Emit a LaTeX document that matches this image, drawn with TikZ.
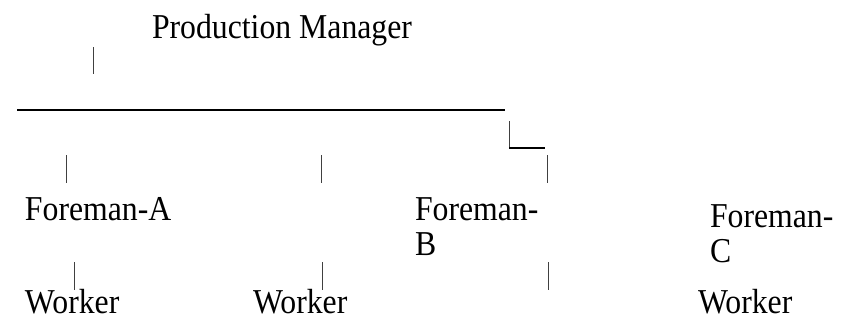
\documentclass[tikz,border=0pt]{standalone}
\usepackage{fontspec}
\setmainfont{Liberation Serif}
% text is set slightly taller than wide
\newcommand{\tallbox}[1]{\scalebox{1}[1.1]{#1}}
\begin{document}
\begin{tikzpicture}[x=0.75pt,y=-0.75pt,
  label/.style={anchor=base west,inner sep=0pt,outer sep=0pt,
    font=\rmfamily\fontsize{23.8}{26.2}\selectfont,align=left},
  tick/.style={line width=0.75pt,draw=black!75},
  rule/.style={line width=1.5pt,draw=black}]
\useasboundingbox (0,0) rectangle (843,325);

% titles (two-line titles are placed by their last line)
\node[label] (pm) at (152,38) {\tallbox{Production Manager}};
\node[label] (fa) at (25,220) {\tallbox{Foreman-A}};
\node[label] (fb) at (415,255) {\tallbox{Foreman-}\\\tallbox{B}};
\node[label] (fc) at (710,262) {\tallbox{Foreman-}\\\tallbox{C}};
\node[label] (w1) at (25,313) {\tallbox{Worker}};
\node[label] (w2) at (253,313) {\tallbox{Worker}};
\node[label] (w3) at (698,313) {\tallbox{Worker}};

% end points of the strokes
\coordinate (pmt) at (93,47);  \coordinate (pmb) at (93,74);
\coordinate (hl) at (17,110);  \coordinate (hr) at (505,110);
\coordinate (lt) at (509,121); \coordinate (lc) at (509,148);
\coordinate (lr) at (545,148);
\coordinate (a1t) at (66,155);  \coordinate (a1b) at (66,183);
\coordinate (a2t) at (321,155); \coordinate (a2b) at (321,183);
\coordinate (a3t) at (547,155); \coordinate (a3b) at (547,183);
\coordinate (b1t) at (74,262);  \coordinate (b1b) at (74,290);
\coordinate (b2t) at (322,262); \coordinate (b2b) at (322,290);
\coordinate (b3t) at (548,262); \coordinate (b3b) at (548,290);

\draw[tick] (pmt) -- (pmb);
\draw[rule] (hl) -- (hr);
\draw[tick] (lt) -- (lc);
\draw[rule] (lc) -- (lr);
\draw[tick] (a1t) -- (a1b);
\draw[tick] (a2t) -- (a2b);
\draw[tick] (a3t) -- (a3b);
\draw[tick] (b1t) -- (b1b);
\draw[tick] (b2t) -- (b2b);
\draw[tick] (b3t) -- (b3b);
\end{tikzpicture}
\end{document}
